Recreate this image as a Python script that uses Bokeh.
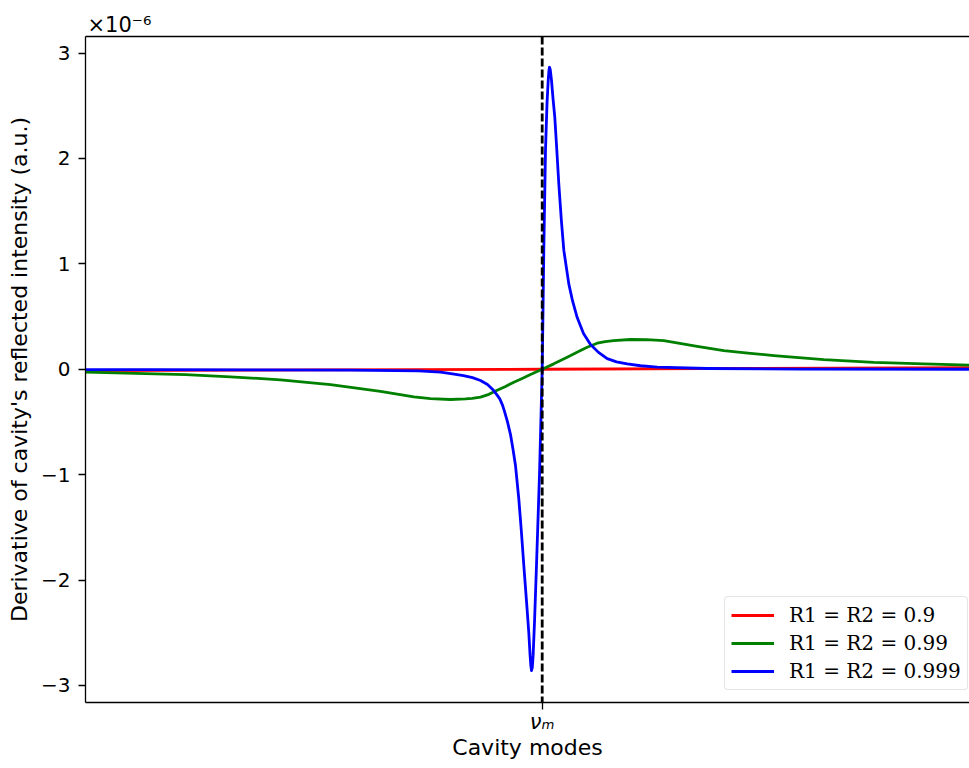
from bokeh.plotting import figure
from bokeh.models import Range1d, FixedTicker, LinearAxis, Span, Legend, LegendItem
from bokeh.embed import file_html
from bokeh.resources import INLINE

# ---- data (detuning from the mode nu_m, arbitrary units; derivative in 1e-6 a.u.) ----
x_red = [-4.567, -2.287, 0.0, 2.133, 4.273]
y_red = [-0.012, -0.007, 0.0, 0.008, 0.016]

x_green = [-4.567, -3.567, -3.117, -2.617, -2.117, -1.617, -1.284, -1.117, -0.917,
           -0.767, -0.700, -0.617, -0.533, -0.450, -0.367, -0.284, -0.200, -0.117,
           0.0, 0.116, 0.250, 0.383, 0.450, 0.550, 0.630, 0.713, 0.883, 1.043,
           1.216, 1.550, 1.816, 2.083, 2.316, 2.816, 3.316, 3.816, 4.273]
y_green = [-0.028, -0.052, -0.072, -0.100, -0.145, -0.210, -0.262, -0.279, -0.287,
           -0.282, -0.276, -0.265, -0.238, -0.200, -0.163, -0.123, -0.087, -0.050,
           0.0, 0.051, 0.114, 0.177, 0.208, 0.247, 0.262, 0.272, 0.282, 0.280,
           0.272, 0.218, 0.177, 0.150, 0.130, 0.092, 0.066, 0.051, 0.038]

x_blue = [-4.567, -3.917, -2.917, -1.917, -1.237, -1.017, -0.897, -0.787, -0.697,
          -0.617, -0.547, -0.487, -0.447, -0.424, -0.397, -0.377, -0.347, -0.317,
          -0.292, -0.267, -0.234, -0.209, -0.184, -0.157, -0.134, -0.122, -0.114,
          -0.107, -0.099, -0.091, -0.077, -0.057, -0.027, -0.012, 0.0, 0.008, 0.016,
          0.033, 0.048, 0.060, 0.067, 0.073, 0.081, 0.093, 0.108, 0.126, 0.146,
          0.166, 0.191, 0.216, 0.266, 0.303, 0.350, 0.413, 0.483, 0.563, 0.650,
          0.743, 0.850, 0.983, 1.150, 1.650, 2.583, 4.273]
y_blue = [-0.003, -0.004, -0.006, -0.009, -0.015, -0.028, -0.044, -0.060, -0.080,
          -0.107, -0.145, -0.200, -0.250, -0.281, -0.340, -0.400, -0.500, -0.620,
          -0.760, -0.914, -1.230, -1.530, -1.860, -2.200, -2.500, -2.700, -2.810,
          -2.860, -2.830, -2.720, -2.400, -1.860, -1.000, -0.450, 0.0, 0.550, 1.130,
          2.080, 2.520, 2.740, 2.830, 2.865, 2.840, 2.740, 2.570, 2.390, 2.080,
          1.760, 1.420, 1.130, 0.810, 0.650, 0.490, 0.340, 0.235, 0.160, 0.100,
          0.070, 0.050, 0.033, 0.020, 0.007, 0.002, 0.0]

series_labels = ["R1 = R2 = 0.9", "R1 = R2 = 0.99", "R1 = R2 = 0.999"]
series_colors = ["#ff0000", "#008000", "#0000ff"]

y_ticks = [-3, -2, -1, 0, 1, 2, 3]
y_tick_labels = ["\u22123", "\u22122", "\u22121", "0", "1", "2", "3"]
x_ticks = [0]
x_tick_labels = ["\u03bd\u2098"]
offset_text = "\u00d710\u207b\u2076"

p = figure(width=969, height=768, output_backend="svg", toolbar_location=None,
           x_range=Range1d(-4.567, 4.273), y_range=Range1d(-3.162, 3.157),
           min_border_left=85, min_border_right=0, min_border_top=36,
           min_border_bottom=66,
           x_axis_label="Cavity modes",
           y_axis_label="Derivative of cavity's reflected intensity (a.u.)")
p.grid.visible = False
p.outline_line_color = None
p.background_fill_color = "white"
p.border_fill_color = "white"

renderers = []
for xs, ys, c in [(x_red, y_red, series_colors[0]),
                  (x_green, y_green, series_colors[1]),
                  (x_blue, y_blue, series_colors[2])]:
    renderers.append(p.line(xs, ys, line_color=c, line_width=2.8,
                            line_join="round"))

p.add_layout(Span(location=0, dimension="height", line_color="black",
                  line_width=2.8, line_dash="8 3"))

for ax in (p.xaxis[0], p.yaxis[0]):
    ax.axis_line_color = "black"
    ax.axis_line_width = 1.3
    ax.major_tick_line_color = "black"
    ax.major_tick_line_width = 1.3
    ax.major_tick_in = 0
    ax.major_tick_out = 7
    ax.minor_tick_line_color = None
    ax.major_label_text_font = "DejaVu Sans"
    ax.major_label_text_font_size = "20px"
    ax.major_label_text_color = "black"
    ax.axis_label_text_font = "DejaVu Sans"
    ax.axis_label_text_font_size = "22px"
    ax.axis_label_text_font_style = "normal"
    ax.axis_label_text_color = "black"

p.xaxis.ticker = FixedTicker(ticks=x_ticks)
p.xaxis.major_label_overrides = {t: s for t, s in zip(x_ticks, x_tick_labels)}
p.xaxis.major_label_text_font_style = "italic"
p.xaxis.major_label_text_font_size = "21px"
p.xaxis.major_label_standoff = 0
p.xaxis.axis_label_standoff = -2

p.yaxis.ticker = FixedTicker(ticks=y_ticks)
p.yaxis.major_label_overrides = {t: s for t, s in zip(y_ticks, y_tick_labels)}
p.yaxis.major_label_standoff = 8
p.yaxis.axis_label_standoff = 6

top = LinearAxis(ticker=FixedTicker(ticks=[]), axis_line_color="black",
                 axis_line_width=1.3, major_tick_line_color=None,
                 minor_tick_line_color=None, major_label_text_font_size="0px")
p.add_layout(top, "above")

p.title.text = offset_text
p.title.align = "left"
p.title.offset = 2
p.title.standoff = 0
p.title.text_font = "DejaVu Sans"
p.title.text_font_size = "21px"
p.title.text_font_style = "normal"
p.title.text_color = "black"

legend = Legend(items=[LegendItem(label=l, renderers=[r])
                       for l, r in zip(series_labels, renderers)],
                location=(639, 12))
legend.label_text_font = "DejaVu Serif"
legend.label_text_font_size = "20px"
legend.label_text_color = "black"
legend.glyph_width = 43
legend.glyph_height = 24
legend.label_height = 24
legend.label_standoff = 15
legend.spacing = 4
legend.padding = 6
legend.margin = 0
legend.border_line_color = "#cccccc"
legend.border_line_width = 1
legend.background_fill_alpha = 0.8
try:
    legend.border_radius = 4
except Exception:
    pass
p.add_layout(legend)

open("out.html", "w").write(file_html(p, INLINE))
